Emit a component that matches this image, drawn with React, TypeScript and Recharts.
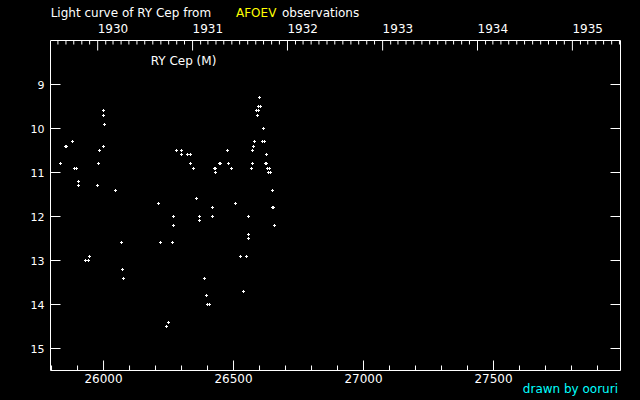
import React from "react";
import { ScatterChart, Scatter, XAxis, YAxis } from "recharts";

// Julian Date - 2400000 of each observation
const jd = [
  26000, 26000, 26004, 25854, 25859, 25881, 26000, 25985, 26281, 25835,
  25888, 25896, 25981, 25904, 25904, 25977, 26046, 26211, 26269, 26269,
  26069, 26219, 26265, 25946, 25931, 25942, 26073, 26077,
  26600, 26596, 26605, 26590, 26597, 26592, 26615, 26581, 26612, 26620,
  26577, 26300, 26477, 26573, 26300, 26323, 26333, 26627, 26334, 26346,
  26445, 26451, 26481, 26492, 26573, 26569, 26623, 26628, 26631, 26640,
  26425, 26431, 26431, 26635, 26641, 26650, 26358, 26508, 26419, 26649,
  26655, 26369, 26369, 26419, 26558, 26658, 26558, 26558, 26527, 26550,
  26388, 26538, 26396, 26400, 26406, 26250, 26242,
];
// Visual magnitude of each observation
const mag = [
  9.6, 9.7, 9.9, 10.4, 10.4, 10.3, 10.4, 10.5, 10.5, 10.8,
  10.9, 10.9, 10.8, 11.2, 11.3, 11.3, 11.4, 11.7, 12.0, 12.2,
  12.6, 12.6, 12.6, 12.9, 13.0, 13.0, 13.2, 13.4,
  9.3, 9.5, 9.5, 9.6, 9.6, 9.7, 10.0, 10.3, 10.3, 10.3,
  10.4, 10.5, 10.5, 10.5, 10.6, 10.6, 10.6, 10.6, 10.8, 10.9,
  10.8, 10.8, 10.8, 10.9, 10.8, 10.9, 10.8, 10.8, 10.9, 10.9,
  10.9, 10.9, 11.0, 11.0, 11.0, 11.4, 11.6, 11.7, 11.8, 11.8,
  11.8, 12.0, 12.1, 12.0, 12.0, 12.2, 12.4, 12.5, 12.9, 12.9,
  13.4, 13.7, 13.8, 14.0, 14.0, 14.4, 14.5,
];

const jdTicks = [25800, 25900, 26000, 26100, 26200, 26300, 26400, 26500, 26600, 26700, 26800, 26900, 27000, 27100, 27200, 27300, 27400, 27500, 27600, 27700, 27800, 27900];
const jdLabelStep = 500;
const magTicks = [9, 10, 11, 12, 13, 14, 15];
const yearLabels = [1929, 1930, 1931, 1932, 1933, 1934, 1935];

const X_DOMAIN: [number, number] = [25796, 27988.5];
const Y_DOMAIN: [number, number] = [8, 15.5];

const data = jd.map((x, i) => ({ jd: x, mag: mag[i] }));

// month-start ticks on the calendar axis (JD - 2400000)
const monthTicks: number[] = [];
const yearStartSet = new Set<number>();
for (const y of [...yearLabels, 1936]) {
  for (let m = 0; m < 12; m++) {
    const v = Date.UTC(y, m, 1) / 86400000 + 2440587.5 - 2400000;
    if (v >= X_DOMAIN[0] && v <= X_DOMAIN[1]) {
      monthTicks.push(v);
      if (m === 0) yearStartSet.add(v);
    }
  }
}
const yearOf = (v: number) =>
  new Date((v + 2400000 - 2440587.5) * 86400000).getUTCFullYear();

const FONT = "DejaVu Sans";

const BottomTick = (p: any) => {
  const { x, y, payload } = p;
  const v = payload.value;
  const major = v % jdLabelStep === 0;
  return (
    <g>
      <line x1={x} x2={x} y1={y} y2={y - (major ? 10 : 5)} stroke="#fff" strokeWidth={1} />
      {major && (
        <text x={x} y={y + 12.5} textAnchor="middle" fill="#fff" fontSize={12} fontFamily={FONT}>
          {v}
        </text>
      )}
    </g>
  );
};

const TopTick = (p: any) => {
  const { x, y, payload } = p;
  const v = payload.value;
  const major = yearStartSet.has(v);
  return (
    <g>
      <line x1={x} x2={x} y1={y} y2={y + (major ? 10 : 4)} stroke="#fff" strokeWidth={1} />
      {major && (
        <text x={x} y={y - 8} textAnchor="start" fill="#fff" fontSize={12} fontFamily={FONT}>
          {yearOf(v)}
        </text>
      )}
    </g>
  );
};

const LeftTick = (p: any) => {
  const { x, y, payload } = p;
  return (
    <g>
      <line x1={x} x2={x + 10} y1={y} y2={y} stroke="#fff" strokeWidth={1} />
      <text x={x - 6} y={y + 4.3} textAnchor="end" fill="#fff" fontSize={11} fontFamily={FONT}>
        {payload.value}
      </text>
    </g>
  );
};

const RightTick = (p: any) => {
  const { x, y } = p;
  return <line x1={x} x2={x - 10} y1={y} y2={y} stroke="#fff" strokeWidth={1} />;
};

const Cross = (p: any) => {
  const { cx, cy } = p;
  if (cx == null || cy == null) return <g />;
  const px = Math.floor(cx);
  const py = Math.floor(cy);
  return (
    <g shapeRendering="crispEdges">
      <rect x={px - 1} y={py} width={3} height={1} fill="#fff" />
      <rect x={px} y={py - 1} width={1} height={3} fill="#fff" />
    </g>
  );
};

export default function App() {
  return (
    <div style={{ position: "fixed", left: 0, top: 0, width: 640, height: 400, background: "#000" }}>
      <ScatterChart
        width={640}
        height={400}
        margin={{ top: 39.5, right: 18.5, bottom: 28.5, left: 49.5 }}
        style={{ background: "#000" }}
      >
        <XAxis
          xAxisId="bottom"
          dataKey="jd"
          type="number"
          domain={X_DOMAIN}
          allowDataOverflow
          ticks={jdTicks}
          interval={0}
          orientation="bottom"
          height={1}
          tickSize={0}
          tickMargin={0}
          tickLine={false}
          axisLine={{ stroke: "#fff", strokeWidth: 1 }}
          tick={<BottomTick />}
        />
        <XAxis
          xAxisId="top"
          dataKey="jd"
          type="number"
          domain={X_DOMAIN}
          allowDataOverflow
          ticks={monthTicks}
          interval={0}
          orientation="top"
          height={1}
          tickSize={0}
          tickMargin={0}
          tickLine={false}
          axisLine={{ stroke: "#fff", strokeWidth: 1 }}
          tick={<TopTick />}
        />
        <YAxis
          yAxisId="left"
          dataKey="mag"
          type="number"
          domain={Y_DOMAIN}
          reversed
          allowDataOverflow
          ticks={magTicks}
          interval={0}
          orientation="left"
          width={1}
          tickSize={0}
          tickMargin={0}
          tickLine={false}
          axisLine={{ stroke: "#fff", strokeWidth: 1 }}
          tick={<LeftTick />}
        />
        <YAxis
          yAxisId="right"
          dataKey="mag"
          type="number"
          domain={Y_DOMAIN}
          reversed
          allowDataOverflow
          ticks={magTicks}
          interval={0}
          orientation="right"
          width={1}
          tickSize={0}
          tickMargin={0}
          tickLine={false}
          axisLine={{ stroke: "#fff", strokeWidth: 1 }}
          tick={<RightTick />}
        />
        <Scatter
          data={data}
          xAxisId="bottom"
          yAxisId="left"
          fill="#fff"
          shape={<Cross />}
          isAnimationActive={false}
        />
        <Scatter
          data={data}
          xAxisId="top"
          yAxisId="right"
          fill="none"
          shape={() => <g />}
          isAnimationActive={false}
        />
        <text x={50.7} y={16.5} fill="#fff" fontSize={12} fontFamily={FONT}>
          <tspan x={50.7}>Light curve of RY Cep from</tspan>
          <tspan x={236} fill="#ffff00">AFOEV</tspan>
          <tspan x={282}>observations</tspan>
        </text>
        <text x={150.7} y={65} fill="#fff" fontSize={12} fontFamily={FONT}>
          RY Cep (M)
        </text>
        <text x={618} y={393} textAnchor="end" fill="#00ffff" fontSize={12} fontFamily={FONT}>
          drawn by ooruri
        </text>
      </ScatterChart>
    </div>
  );
}
